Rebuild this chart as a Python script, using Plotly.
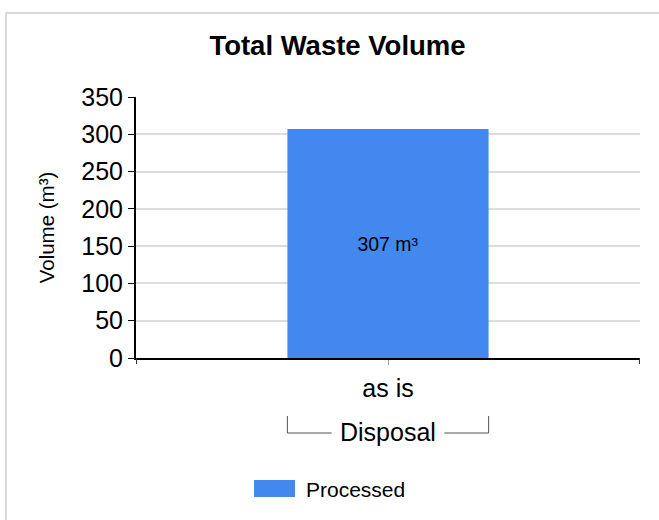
import plotly.graph_objects as go

# ---- data ----
categories = ["as is"]
group_label = "Disposal"
series_name = "Processed"
values = [307]
unit = "m³"
y_ticks = [0, 50, 100, 150, 200, 250, 300, 350]

FONT = "Liberation Sans, Arial, sans-serif"
BLUE = "#4388EE"

W, H = 659, 520
L, R, T, B = 136, 19, 97, 162
ph = H - T - B  # plot height in px
pw = W - L - R


def py(px):  # pixel y -> paper y
    return (H - B - px) / ph


def pxx(px):  # pixel x -> paper x
    return (px - L) / pw


fig = go.Figure()
fig.add_trace(go.Bar(
    x=categories,
    y=values,
    name=series_name,
    marker=dict(color=BLUE, line=dict(width=0)),
    text=[f"{v} {unit}" for v in values],
    textposition="inside",
    insidetextanchor="middle",
    textfont=dict(family=FONT, size=19.5, color="black"),
    showlegend=False,
))

shapes = []
# outer frame
shapes.append(dict(type="rect", xref="paper", yref="paper",
                   x0=pxx(6), x1=pxx(700), y0=py(560), y1=py(13),
                   line=dict(color="#d9d9d9", width=2), fillcolor="rgba(0,0,0,0)",
                   layer="below"))
# end ticks of x axis
for xe in (-0.5, 0.5):
    shapes.append(dict(type="line", xref="x", yref="paper", x0=xe, x1=xe,
                       y0=0, y1=py(364), line=dict(color="#333", width=1)))
# group bracket
for xs in (-0.2, 0.2):
    shapes.append(dict(type="line", xref="x", yref="paper", x0=xs, x1=xs,
                       y0=py(416), y1=py(433), line=dict(color="#555", width=1)))
shapes.append(dict(type="line", xref="x", yref="paper", x0=-0.2, x1=-0.112,
                   y0=py(433), y1=py(433), line=dict(color="#555", width=1)))
shapes.append(dict(type="line", xref="x", yref="paper", x0=0.112, x1=0.2,
                   y0=py(433), y1=py(433), line=dict(color="#555", width=1)))
# legend swatch
shapes.append(dict(type="rect", xref="paper", yref="paper",
                   x0=pxx(254), x1=pxx(295), y0=py(497), y1=py(480),
                   fillcolor=BLUE, line=dict(width=0)))

annotations = [
    dict(text=group_label, xref="x", yref="paper", x=0, y=py(432),
         xanchor="center", yanchor="middle", showarrow=False,
         font=dict(family=FONT, size=25, color="black")),
    dict(text=series_name, xref="paper", yref="paper", x=pxx(304), y=py(489),
         xanchor="left", yanchor="middle", showarrow=False,
         font=dict(family=FONT, size=21, color="black")),
]

fig.update_layout(
    width=W, height=H,
    margin=dict(l=L, r=R, t=T, b=B, autoexpand=False),
    paper_bgcolor="white", plot_bgcolor="white",
    bargap=0.6,
    title=dict(text="<b>Total Waste Volume</b>", x=337.5 / W, xref="container",
               xanchor="center", y=1 - 45 / H, yref="container", yanchor="middle",
               font=dict(family=FONT, size=27.5, color="black")),
    xaxis=dict(
        type="category",
        showline=True, linecolor="black", linewidth=2,
        ticks="outside", ticklen=5, tickcolor="#999", tickwidth=1,
        ticklabelstandoff=2,
        tickfont=dict(family=FONT, size=25, color="black"),
        showgrid=False, automargin=False,
    ),
    yaxis=dict(
        range=[0, 350], tickvals=y_ticks,
        showline=True, linecolor="black", linewidth=2,
        ticks="outside", ticklen=6, tickcolor="black", tickwidth=1,
        tickfont=dict(family=FONT, size=25, color="black"),
        showgrid=True, gridcolor="#dcdcdc", gridwidth=2,
        zeroline=False, automargin=False,
        title=dict(text="Volume (m³)", standoff=21,
                   font=dict(family=FONT, size=20.5, color="black")),
    ),
    shapes=shapes,
    annotations=annotations,
    showlegend=False,
)

fig.write_html("out.html", config={"displayModeBar": False},
               post_script="document.body.style.margin='0px';")
